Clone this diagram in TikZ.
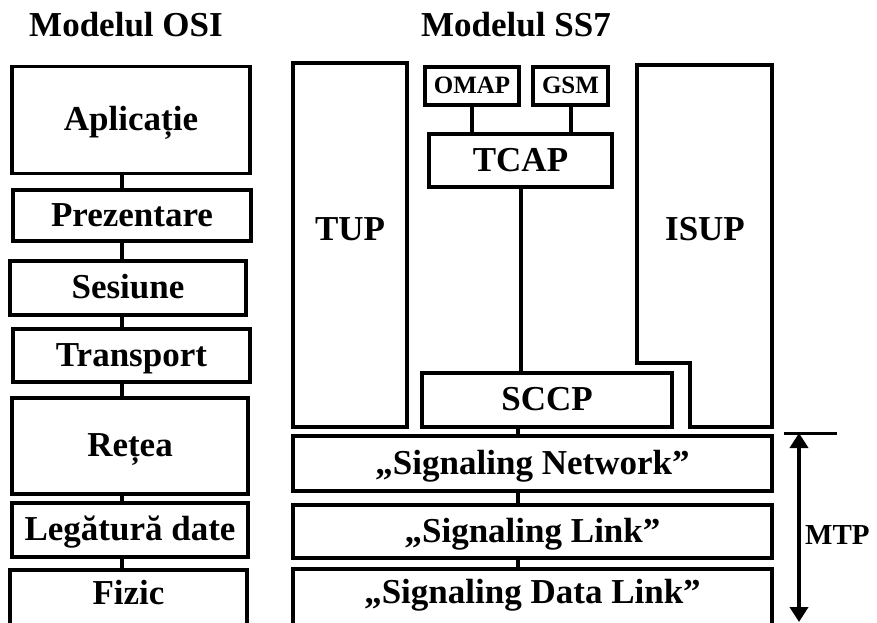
\documentclass[tikz,border=0pt]{standalone}
\usepackage{fontspec}
\setmainfont{Liberation Serif}
\usetikzlibrary{arrows.meta}

\tikzset{
  layer/.style={draw,line width=3.3pt,inner sep=0pt,text height=23pt,text depth=2pt,
    font=\bfseries\fontsize{35}{40}\selectfont},
  cutlayer/.style={layer,minimum height=90,text depth=44pt},
  smalllayer/.style={layer,text height=16.5pt,text depth=2pt,
    font=\bfseries\fontsize{25}{30}\selectfont},
  link/.style={line width=4pt},
  title/.style={anchor=base,font=\bfseries\fontsize{35}{40}\selectfont},
}

\begin{document}
\begin{tikzpicture}[x=1pt,y=-1pt]
  \useasboundingbox (0,0) rectangle (877,622);
  \clip (0,0) rectangle (877,622);

  \node[title] (osititle) at (126,36) {Modelul OSI};
  \node[title] (sstitle) at (516,36) {Modelul SS7};

  % OSI
  \coordinate (osiaxis) at (122,0);
  \node[layer,minimum width=238,minimum height=107] (apl) at (131,120) {Aplicație};
  \node[layer,minimum width=238,minimum height=51] (prez) at (132,215.5) {Prezentare};
  \node[layer,minimum width=236,minimum height=54] (ses) at (128,288) {Sesiune};
  \node[layer,minimum width=237,minimum height=53] (transp) at (131.5,355.5) {Transport};
  \node[layer,minimum width=236,minimum height=96] (retea) at (130,446) {Rețea};
  \node[layer,minimum width=236,minimum height=54] (leg) at (130,530) {Legătură date};
  \node[cutlayer,minimum width=237] (fizic) at (128.5,615) {Fizic};
  \foreach \a/\b in {apl/prez,prez/ses,ses/transp,transp/retea,retea/leg,leg/fizic}
    \draw[link] (\a.south -| osiaxis) -- (\b.north -| osiaxis);

  % SS7
  \coordinate (ssaxis) at (518,0);
  \node[layer,minimum width=114,minimum height=364] (tup) at (350,245) {};
  \node[font=\bfseries\fontsize{35}{40}\selectfont] (tuptext) at (350,229) {TUP};
  \node[smalllayer,minimum width=94,minimum height=38] (omap) at (472,86) {OMAP};
  \node[smalllayer,minimum width=75,minimum height=38] (gsm) at (570.5,86) {GSM};
  \node[layer,minimum width=183,minimum height=53] (tcap) at (520.5,160.5) {TCAP};
  \node[layer,minimum width=250,minimum height=54] (sccp) at (547,400) {SCCP};
  \draw[line width=3.3pt] (637,65) -- (772,65) -- (772,427) -- (690,427)
    -- (690,363) -- (637,363) -- cycle;
  \node[font=\bfseries\fontsize{35}{40}\selectfont] (isup) at (705,229) {ISUP};
  \node[layer,minimum width=479,minimum height=55] (signet) at (532.5,463.5) {„Signaling Network”};
  \node[layer,minimum width=479,minimum height=53] (siglink) at (532.5,531.5) {„Signaling Link”};
  \node[cutlayer,minimum width=479] (sigdata) at (532.5,614) {„Signaling Data Link”};
  \draw[link] (omap.south) -- (omap.south |- tcap.north);
  \draw[link] (gsm.south) -- (gsm.south |- tcap.north);
  \draw[link] (tcap.south) -- (tcap.south |- sccp.north);
  \foreach \a/\b in {sccp/signet,signet/siglink,siglink/sigdata}
    \draw[link] (\a.south -| ssaxis) -- (\b.north -| ssaxis);

  % MTP
  \coordinate (mtptop) at (799,433);
  \coordinate (mtpbot) at (799,622);
  \draw[line width=3pt] (mtptop) ++(-15,0) -- ++(53,0);
  \draw[link,{Triangle[width=18pt,length=15pt]}-{Triangle[width=18pt,length=15pt]}] (mtptop) -- (mtpbot);
  \node[anchor=west,inner sep=0pt,font=\bfseries\fontsize{29}{34}\selectfont] (mtp) at (805,535) {MTP};
\end{tikzpicture}
\end{document}
